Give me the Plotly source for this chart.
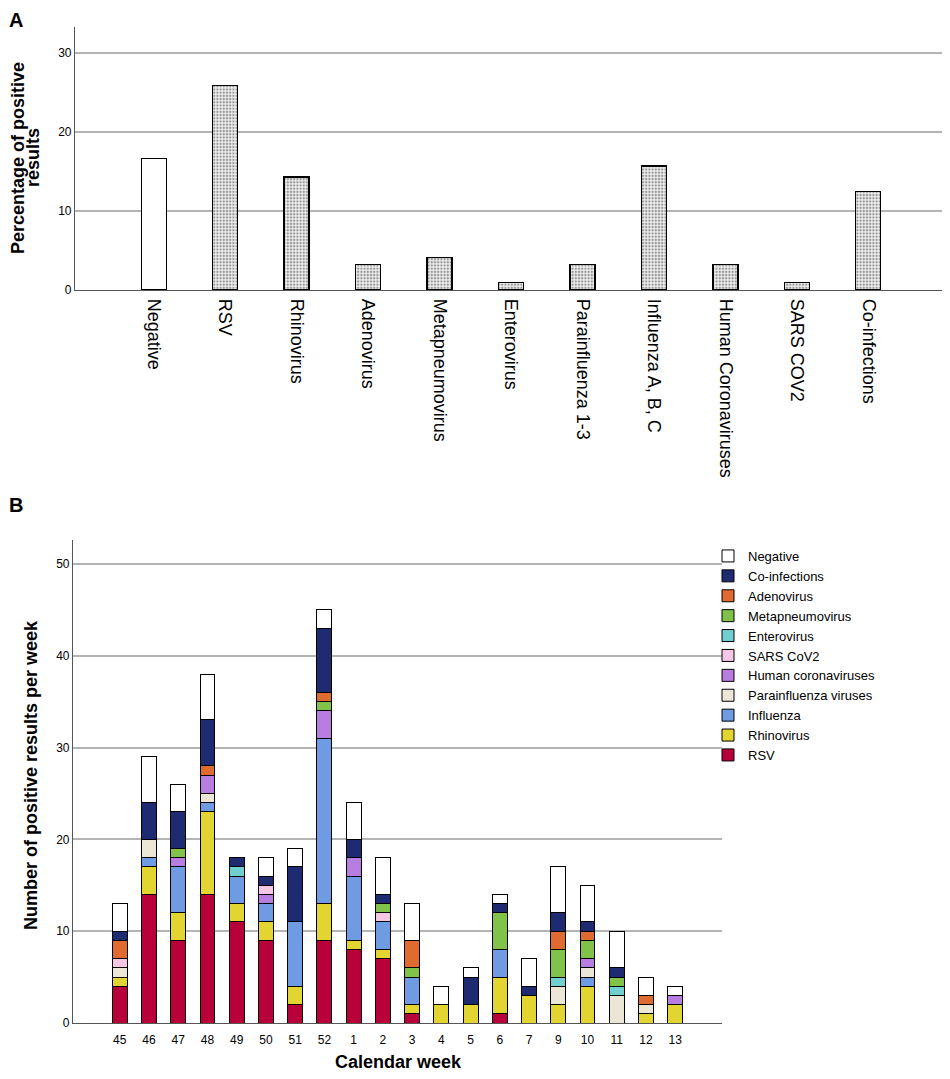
import plotly.graph_objects as go

# ---------------- Panel A data ----------------
cats_a = ["Negative", "RSV", "Rhinovirus", "Adenovirus", "Metapneumovirus", "Enterovirus",
          "Parainfluenza 1-3", "Influenza A, B, C", "Human Coronaviruses", "SARS COV2", "Co-infections"]
pct_a = [16.6, 25.9, 14.3, 3.2, 4.1, 0.9, 3.2, 15.7, 3.2, 0.9, 12.5]

# ---------------- Panel B data ----------------
weeks = ["45", "46", "47", "48", "49", "50", "51", "52", "1", "2", "3", "4", "5", "6", "7", "9", "10", "11", "12", "13"]
rsv        = [4, 14, 9, 14, 11, 9, 2, 9, 8, 7, 1, 0, 0, 1, 0, 0, 0, 0, 0, 0]
rhinovirus = [1, 3, 3, 9, 2, 2, 2, 4, 1, 1, 1, 2, 2, 4, 3, 2, 4, 0, 1, 2]
influenza  = [0, 1, 5, 1, 3, 2, 7, 18, 7, 3, 3, 0, 0, 3, 0, 0, 1, 0, 0, 0]
parainfl   = [1, 2, 0, 1, 0, 0, 0, 0, 0, 0, 0, 0, 0, 0, 0, 2, 1, 3, 1, 0]
hcov       = [0, 0, 1, 2, 0, 1, 0, 3, 2, 0, 0, 0, 0, 0, 0, 0, 1, 0, 0, 1]
sars       = [1, 0, 0, 0, 0, 1, 0, 0, 0, 1, 0, 0, 0, 0, 0, 0, 0, 0, 0, 0]
enterovir  = [0, 0, 0, 0, 1, 0, 0, 0, 0, 0, 0, 0, 0, 0, 0, 1, 0, 1, 0, 0]
metapneumo = [0, 0, 1, 0, 0, 0, 0, 1, 0, 1, 1, 0, 0, 4, 0, 3, 2, 1, 0, 0]
adenovirus = [2, 0, 0, 1, 0, 0, 0, 1, 0, 0, 3, 0, 0, 0, 0, 2, 1, 0, 1, 0]
coinfect   = [1, 4, 4, 5, 1, 1, 6, 7, 2, 1, 0, 0, 3, 1, 1, 2, 1, 1, 0, 0]
negative   = [3, 5, 3, 5, 0, 2, 2, 2, 4, 4, 4, 2, 1, 1, 3, 5, 4, 4, 2, 1]

series_names = ["RSV", "Rhinovirus", "Influenza", "Parainfluenza viruses", "Human coronaviruses",
                "SARS CoV2", "Enterovirus", "Metapneumovirus", "Adenovirus", "Co-infections", "Negative"]
series_vals = [rsv, rhinovirus, influenza, parainfl, hcov, sars, enterovir, metapneumo, adenovirus, coinfect, negative]
series_colors = ["#b8003a", "#e2d532", "#6f9be2", "#ebe6d6", "#b87de0",
                 "#f4c8e4", "#70d0d0", "#80c24a", "#e06b30", "#1e2b70", "#ffffff"]

FONT = "Arial, Liberation Sans, sans-serif"
# the page body adds an 8px offset; size the figure so it fills the 950x1079 window
OX, OY = 8, 8
W, H = 950 - OX, 1079 - OY

def px_x(p):
    return (p - OX) / W

def px_y(p):
    return 1 - (p - OY) / H

fig = go.Figure()

# Panel A bars
fig.add_trace(go.Bar(
    x=cats_a, y=pct_a, xaxis="x", yaxis="y", showlegend=False, width=0.35,
    marker=dict(
        color="white",
        line=dict(color="black", width=1.2),
        pattern=dict(shape=[""] + ["."] * (len(cats_a) - 1), size=3.2, solidity=0.45,
                     fgcolor="#3a3a3a", bgcolor="#f2f2f2", fillmode="overlay"),
    ),
))

# Panel B stacked bars
for name, vals, col in zip(series_names, series_vals, series_colors):
    fig.add_trace(go.Bar(
        x=weeks, y=vals, name=name, xaxis="x2", yaxis="y2",
        marker=dict(color=col, line=dict(color="black", width=1)),
    ))

axis_common = dict(showline=True, linecolor="#555555", linewidth=1.2, ticks="", automargin=False)

fig.update_layout(
    width=W, height=H,
    margin=dict(l=0, r=0, t=0, b=0, autoexpand=False),
    paper_bgcolor="white", plot_bgcolor="white",
    font=dict(family=FONT, color="black", size=12),
    barmode="stack",
    showlegend=True,
    xaxis=dict(domain=[px_x(75), px_x(947)], anchor="y", type="category",
               range=[-1.1, 11.1], tickangle=90, tickfont=dict(size=18),
               showgrid=False, ticklabelstandoff=4, **axis_common),
    yaxis=dict(domain=[px_y(290), px_y(27)], anchor="x", range=[0, 33.3],
               tickvals=[0, 10, 20, 30], tickfont=dict(size=12),
               showgrid=True, gridcolor="#b4b4b4", gridwidth=1.5, zeroline=False, **axis_common),
    xaxis2=dict(domain=[px_x(73), px_x(722)], anchor="y2", type="category",
                range=[-1.6, 20.6], tickfont=dict(size=12),
                showgrid=False, ticklabelstandoff=5, **axis_common),
    yaxis2=dict(domain=[px_y(1023), px_y(540)], anchor="x2", range=[0, 52.6],
                tickvals=[0, 10, 20, 30, 40, 50], tickfont=dict(size=12),
                showgrid=True, gridcolor="#b4b4b4", gridwidth=1.5, zeroline=False, **axis_common),
    bargap=0.49,
    legend=dict(x=px_x(708), y=px_y(541), xanchor="left", yanchor="top",
                traceorder="reversed", font=dict(size=13, family=FONT),
                bgcolor="rgba(0,0,0,0)", borderwidth=0, itemwidth=30,
                tracegroupgap=0),
)

def note(text, x, y, size, angle=0, yanchor="middle"):
    return dict(text=text, x=px_x(x), y=px_y(y), xref="paper", yref="paper",
                xanchor="center", yanchor=yanchor, showarrow=False, borderpad=0,
                textangle=angle, font=dict(size=size))

ann = [
    note("<b>A</b>", 16, 8, 20, yanchor="top"),
    note("<b>B</b>", 16, 505, 20),
    note("<b>Percentage of positive</b>", 18, 158, 18, -90),
    note("<b>results</b>", 33, 158, 18, -90),
    note("<b>Number of positive results per week</b>", 31, 775, 18, -90),
    note("<b>Calendar week</b>", 398, 1062, 18),
]
fig.update_layout(annotations=ann)

fig.write_html("out.html")
